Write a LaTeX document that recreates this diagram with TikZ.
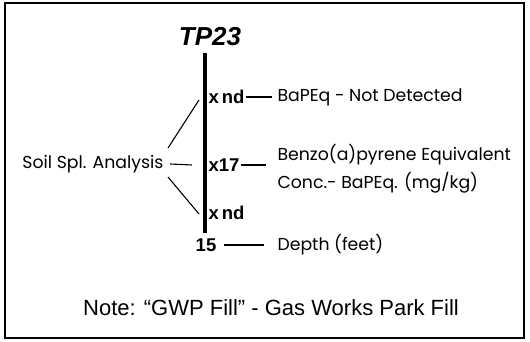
\documentclass[tikz,border=0pt]{standalone}
\usepackage{fontspec}
\usepackage{tikz}
\setmainfont{Liberation Sans}
\newfontfamily\gothic{Poppins}

\begin{document}
\begin{tikzpicture}[x=1pt, y=-1pt, line width=1.1pt,
		label/.style={anchor=west, inner sep=1pt, font=\gothic\fontsize{17.3}{28}\selectfont},
		reading/.style={anchor=west, inner sep=1pt, font=\fontsize{18.5}{20}\selectfont\bfseries}]
			\useasboundingbox (0,0) rectangle (530,342);
			% frame
			\draw[line width=2pt] (5,3) rectangle (524,338);

			% test pit
			\node (title) at (210,37) {\fontsize{26}{28}\selectfont\bfseries\itshape TP23};
			\coordinate (bartop) at (205,53);
			\coordinate (barbot) at (205,233);
			\draw[line width=4pt] (bartop) -- (barbot);

			% samples
			\node[reading] (ndtop) at (207,97) {x\,nd};
			\node[reading] (conc) at (207,165) {x17};
			\node[reading] (ndbot) at (207,213) {x\,nd};
			\node[reading, anchor=center] (depth) at (206,245) {15};

			% legend
			\node[label] (notdet) at (276,97) {BaPEq - Not Detected};
			\node[label, align=left] (bapeq) at (276,169) {Benzo(a)pyrene Equivalent\\Conc.- BaPEq. (mg/kg)};
			\node[label] (feet) at (276,245) {Depth (feet)};
			\node[label, anchor=east] (soil) at (165,164) {Soil Spl. Analysis};

			\draw (ndtop.east) -- ([xshift=-4pt]notdet.west);
			\draw (conc.east) -- ([xshift=-10pt]conc.east -| bapeq.west);
			\draw ([xshift=6pt]depth.east) -- ([xshift=-12pt]feet.west);

			\coordinate (tipA) at (199,100);
			\coordinate (tipB) at (192,165);
			\coordinate (tipC) at (199,214);
			\draw ([xshift=3pt, yshift=16pt]soil.east) -- (tipA);
			\draw ([xshift=5pt]soil.east) -- (tipB);
			\draw ([xshift=3pt, yshift=-13pt]soil.east) -- (tipC);

			% note
			\node (note) at (271,308) {\fontsize{22}{24}\selectfont Note: “GWP Fill” - Gas Works Park Fill};
		\end{tikzpicture}
\end{document}
